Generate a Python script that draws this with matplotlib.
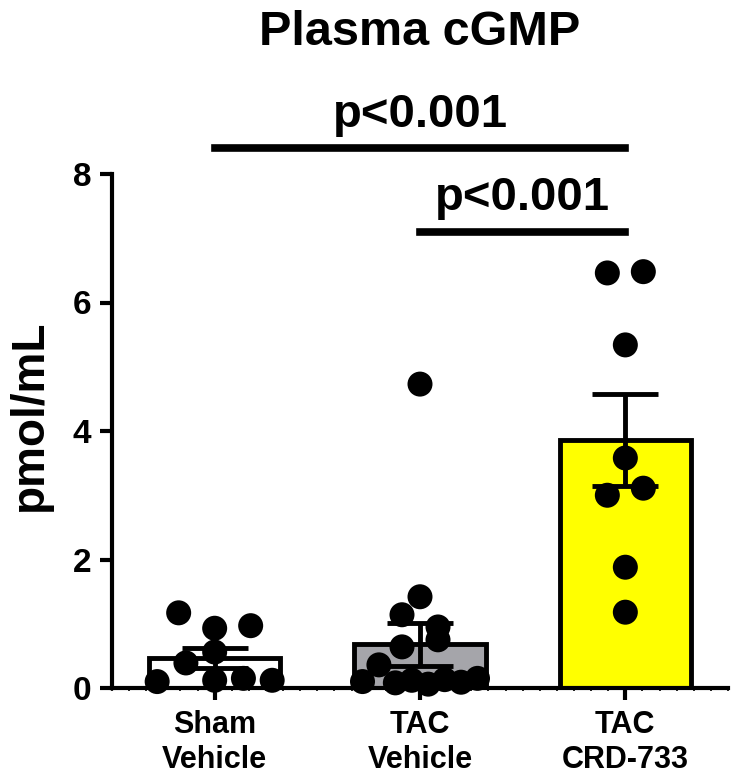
import numpy as np
import matplotlib
matplotlib.use("Agg")
import matplotlib.pyplot as plt
from matplotlib.ticker import MultipleLocator

# ---------------- data ----------------
categories = ["Sham\nVehicle", "TAC\nVehicle", "TAC\nCRD-733"]
means = [0.47, 0.68, 3.86]
sems = [0.16, 0.33, 0.72]
sham_vehicle = [0.10, 0.39, 0.12, 0.15, 0.12, 0.56, 1.17, 0.93, 0.97]
tac_vehicle = [0.10, 0.36, 0.08, 0.12, 0.06, 0.13, 0.09, 0.15,
               0.64, 0.75, 1.14, 0.95, 1.42, 4.73]
tac_crd733 = [1.18, 1.88, 3.00, 3.11, 3.58, 5.34, 6.46, 6.48]
groups = [sham_vehicle, tac_vehicle, tac_crd733]
comparisons = [(0, 2, "p<0.001"), (1, 2, "p<0.001")]
y_ticks = [0, 2, 4, 6, 8]

title = "Plasma cGMP"
ylabel = "pmol/mL"

# ---------------- style ----------------
plt.rcParams["font.family"] = ["Liberation Sans", "DejaVu Sans"]
plt.rcParams["font.weight"] = "bold"
bar_colors = ["#ffffff", "#a5a5aa", "#ffff00"]

W, H = 732, 780
fig = plt.figure(figsize=(W / 100, H / 100), dpi=100)
ax = fig.add_axes([112 / W, 92 / H, 616 / W, 514 / H])
ax.set_xlim(-0.5, 2.5)
ax.set_ylim(0, 8)

x = np.arange(len(categories))
ax.bar(x, means, width=0.64, color=bar_colors, edgecolor="black",
       linewidth=3.5, zorder=2)
ax.errorbar(x, means, yerr=sems, fmt="none", ecolor="black",
            elinewidth=3.5, capsize=24, capthick=3.5, zorder=3)


def row_scatter_x(values, center, row_h=19.5, g_max=36.0, w_max=115.0):
    """Group points into horizontal rows and spread each row symmetrically."""
    t = ax.transData
    pxx = t.transform((1, 0))[0] - t.transform((0, 0))[0]
    pxy = t.transform((0, 1))[1] - t.transform((0, 0))[1]
    vals = np.asarray(values, dtype=float)
    ys = vals * pxy
    order = np.argsort(ys, kind="stable")
    rows, cur, start = [], [], None
    for i in order:
        if cur and ys[i] - start < row_h:
            cur.append(i)
        else:
            if cur:
                rows.append(cur)
            cur, start = [i], ys[i]
    if cur:
        rows.append(cur)
    xs = np.zeros(len(vals))
    for r in rows:
        r = sorted(r)  # keep data order within a row
        n = len(r)
        g = g_max if n < 2 else min(g_max, w_max / (n - 1))
        for j, i in enumerate(r):
            xs[i] = (j - (n - 1) / 2) * g
    return center + xs / pxx


for gi, vals in enumerate(groups):
    xs = row_scatter_x(vals, x[gi])
    ax.scatter(xs, vals, s=18 ** 2, color="black", edgecolor="none",
               zorder=4, clip_on=False)

# significance bars
sig_levels = [8.40, 7.10]
text_levels = [8.73, 7.44]
for (a, b, lab), ly, ty in zip(comparisons, sig_levels, text_levels):
    ax.plot([a, b], [ly, ly], color="black", lw=5.5, clip_on=False,
            solid_capstyle="projecting")
    ax.text((a + b) / 2, ty, lab, ha="center", va="baseline",
            fontsize=34, fontweight="bold", clip_on=False)

# axes styling
for s in ["top", "right"]:
    ax.spines[s].set_visible(False)
for s in ["left", "bottom"]:
    ax.spines[s].set_linewidth(3)
ax.set_yticks(y_ticks)
ax.set_xticks(x)
ax.set_xticklabels(categories, fontsize=22, fontweight="bold", linespacing=1.25)
ax.tick_params(axis="y", length=9, width=3, labelsize=24, pad=6)
ax.tick_params(axis="x", which="major", length=8.5, width=3, pad=7)
ax.xaxis.set_minor_locator(MultipleLocator(1 / 12))
ax.tick_params(axis="x", which="minor", length=2.5, width=1.2)
for lbl in ax.get_yticklabels():
    lbl.set_fontweight("bold")

fig.text(420 / W, 1 - 45 / H, title, ha="center", va="baseline",
         fontsize=35, fontweight="bold")
fig.text(30 / W, 1 - 415 / H, ylabel, ha="center", va="center",
         rotation=90, fontsize=33, fontweight="bold")

fig.savefig("out.png", dpi=100)
